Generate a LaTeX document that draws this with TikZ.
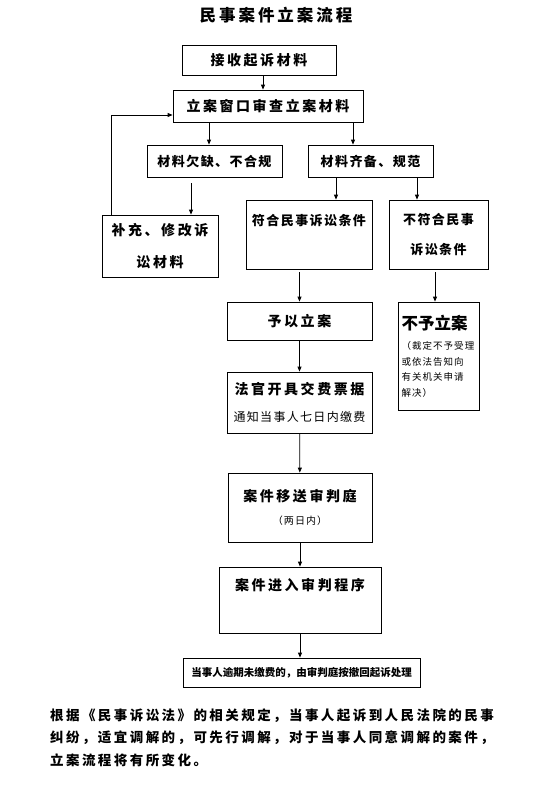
\documentclass[tikz,border=0pt]{standalone}
\usepackage{fontspec}
\usetikzlibrary{arrows.meta,positioning,calc}
\newfontfamily\cjk{Noto Sans CJK SC}
\newfontfamily\cjkwide[LetterSpace=18]{Noto Sans CJK SC}
\newfontfamily\cjkmid[LetterSpace=11]{Noto Sans CJK SC}
\newcommand{\fsz}[2]{\fontsize{#1}{#2}\selectfont}

\begin{document}
\begin{tikzpicture}[x=1pt,y=-1pt,
    box/.style={draw,line width=0.8pt,inner sep=0pt,align=center},
    arr/.style={-{Triangle[length=5pt,width=4pt]},line width=0.8pt}]
  \useasboundingbox (0,0) rectangle (544,787);
  % title
  \node[font=\cjkwide\bfseries\fsz{16.5}{20}] (title) at (276,15) {民事案件立案流程};
  % review stage
  \node[box,minimum width=154pt,minimum height=30pt,font=\cjkwide\bfseries\fsz{14}{16}] (receive) at (259,60) {接收起诉材料};
  \node[box,minimum width=190pt,minimum height=32pt,font=\cjkwide\bfseries\fsz{14}{16}] (review) at (268,106) {立案窗口审查立案材料};
  \node[box,minimum width=135pt,minimum height=32pt,font=\cjkmid\bfseries\fsz{13}{15}] (lack) at (214.5,161) {材料欠缺、不合规};
  \node[box,minimum width=125pt,minimum height=32pt,font=\cjkmid\bfseries\fsz{13}{15}] (complete) at (370.5,161) {材料齐备、规范};
  \node[box,minimum width=116pt,minimum height=62pt,font=\cjkwide\bfseries\fsz{14}{32}] (supp) at (160,246) {补充、修改诉\\讼材料};
  \node[box,minimum width=126pt,minimum height=69pt,text depth=30pt,font=\cjkmid\bfseries\fsz{13}{15}] (meet) at (309,234.5) {符合民事诉讼条件};
  \node[box,minimum width=99pt,minimum height=69pt,font=\cjkmid\bfseries\fsz{13}{30}] (unmeet) at (438.5,234.5) {不符合民事\\诉讼条件};
  % filing stage
  \node[box,minimum width=145pt,minimum height=38pt,font=\cjkwide\bfseries\fsz{14}{16}] (grant) at (299.5,321) {予以立案};
  \node[box,minimum width=81pt,minimum height=108pt,text width=74pt,align=left,font=\cjkmid\fsz{9.5}{15.5}] (reject) at (438.5,356)
    {{\cjk\bfseries\fsz{16.5}{20}不予立案}\\[5pt]（裁定不予受理\\或依法告知向\\有关机关申请\\解决）};
  \node[box,minimum width=145pt,minimum height=61pt,font=\cjkmid\fsz{12}{26.3}] (fee) at (299.5,402.5)
    {{\cjkwide\bfseries\fsz{14}{16}法官开具交费票据}\\通知当事人七日内缴费};
  \node[box,minimum width=144pt,minimum height=69pt,font=\cjkmid\fsz{10}{23.5}] (transfer) at (300,507.5)
    {{\cjkwide\bfseries\fsz{14}{16}案件移送审判庭}\\（两日内）};
  \node[box,minimum width=162pt,minimum height=66pt,text depth=31pt,font=\cjkwide\bfseries\fsz{14}{16}] (trial) at (300,600) {案件进入审判程序};
  \node[box,minimum width=237pt,minimum height=29pt,font=\cjk\bfseries\fsz{10.5}{12}] (notice) at (301.5,672.5) {当事人逾期未缴费的，由审判庭按撤回起诉处理};
  % note
  \node[anchor=north west,inner sep=0pt,align=left,font=\cjkwide\bfseries\fsz{13.5}{22.5}] (law) at (50,708.5)
    {根据《民事诉讼法》的相关规定，当事人起诉到人民法院的民事\\纠纷，适宜调解的，可先行调解，对于当事人同意调解的案件，\\立案流程将有所变化。};
  % connectors
  \draw[arr] ([xshift=4pt]receive.south) -- ([xshift=4pt]receive.south |- review.north);
  \draw[arr] ([xshift=-59pt]review.south) -- ([xshift=-59pt]review.south |- lack.north);
  \draw[arr] ([xshift=85pt]review.south) -- ([xshift=85pt]review.south |- complete.north);
  \draw[arr,shorten <=6pt] ([xshift=-23.5pt]lack.south) -- ([xshift=-23.5pt]lack.south |- supp.north);
  \draw[arr] ([xshift=-49pt]supp.north) |- ([yshift=-9pt]review.west);
  \draw[arr] ([xshift=-34.5pt]complete.south) -- ([xshift=-34.5pt]complete.south |- meet.north);
  \draw[arr] ([xshift=46.5pt]complete.south) -- ([xshift=46.5pt]complete.south |- unmeet.north);
  \draw[arr,shorten <=3pt] (grant.north |- meet.south) -- (grant.north);
  \draw[arr,shorten <=3pt] ([xshift=-3.5pt]reject.north |- unmeet.south) -- ([xshift=-3.5pt]reject.north);
  \draw[arr] (grant) -- (fee);
  \draw[arr] (fee) -- (transfer);
  \draw[arr] (transfer) -- (trial);
  \draw[arr] (trial.south) -- (trial.south |- notice.north);
\end{tikzpicture}
\end{document}
